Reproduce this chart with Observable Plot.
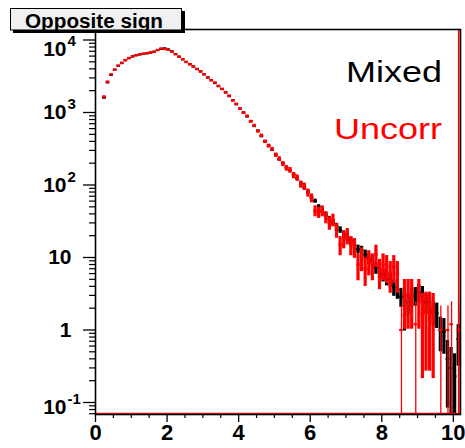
<!DOCTYPE html>
<html><head><meta charset="utf-8">
<script src="https://cdn.jsdelivr.net/npm/d3@7"></script>
<script src="https://cdn.jsdelivr.net/npm/@observablehq/plot@0.6"></script>
<style>body{margin:0;background:#fff;} #chart{width:465px;height:448px;}</style>
</head><body><div id="chart"></div>
<script>
// ---- data ----
const binCenters = [
0.05,0.15,0.25,0.35,0.45,0.55,0.65,0.75,0.85,0.95,
1.05,1.15,1.25,1.35,1.45,1.55,1.65,1.75,1.85,1.95,
2.05,2.15,2.25,2.35,2.45,2.55,2.65,2.75,2.85,2.95,
3.05,3.15,3.25,3.35,3.45,3.55,3.65,3.75,3.85,3.95,
4.05,4.15,4.25,4.35,4.45,4.55,4.65,4.75,4.85,4.95,
5.05,5.15,5.25,5.35,5.45,5.55,5.65,5.75,5.85,5.95,
6.05,6.15,6.25,6.35,6.45,6.55,6.65,6.75,6.85,6.95,
7.05,7.15,7.25,7.35,7.45,7.55,7.65,7.75,7.85,7.95,
8.05,8.15,8.25,8.35,8.45,8.55,8.65,8.75,8.85,8.95,
9.05,9.15,9.25,9.35,9.45,9.55,9.65,9.75,9.85,9.95,
10.05,10.15];
const mixed = [
null,null,1600,2600,3300,3900,4400,4800,5250,5650,
5950,6150,6300,6450,6550,6700,6900,7250,7550,7650,
7400,6950,6400,5900,5400,5000,4650,4300,4000,3700,
3350,3050,2800,2550,2330,2120,1900,1680,1480,1300,
1130,1000,880,760,650,560,470,400,350,305,
262,225,198,176,158,140,122,106,92,80,
68,60,50,44,39,34,30,27,24,21,
19,17,15,13,12.5,11,9.5,8.8,7.2,6.4,
5.8,5.2,5.0,3.9,3.6,2.9,1.6,2.4,2.9,3.0,
3.3,3.1,2.4,2.0,1.8,1.7,1.0,0.95,0.4,0.3,
0.23,0.75];
const uncorr = [
null,null,1650,2650,3350,3880,4420,4850,5300,5600,
5900,6200,6400,6450,6600,6750,6850,7300,7600,7500,
7300,6900,6350,5850,5450,4950,4600,4320,3950,3650,
3380,3020,2780,2580,2300,2100,1880,1700,1460,1310,
1120,990,890,750,660,550,480,395,345,310,
258,228,195,170,160,135,125,102,95,78,
66,44,42,44,36,30,33,24,15,18,
20,15,14,8,10,7,9,8,11,6.5,
8,7.5,6,7.5,6,1.0,3.0,3.0,3.0,1.2,
3.0,1.7,1.8,1.8,1.7,null,1.0,null,1.0,1.2,
null,1.0];
const seriesNames = ["Mixed", "Uncorr"];
const yTickValues = [0.1, 1, 10, 100, 1000, 10000];
const yTickBase = ["10", "1", "10", "10", "10", "10"];
const yTickExp = ["-1", "", "", "2", "3", "4"];
const xTickValues = [0, 2, 4, 6, 8, 10];
const xTickLabels = ["0", "2", "4", "6", "8", "10"];
const titleText = "Opposite sign";

// ---- setup ----
const xMax = 10.2, yMin = 0.0683, yMax = 13960;
const RED = "#ff0000", BLACK = "#000000";
const wMixed = 0.25, wUncorr = 1.3;   // per-bin error weight (err = sqrt(w*N))

function rows(values, w) {
  return binCenters.map((x, i) => ({x, v: values[i]}))
    .filter(d => d.v != null && d.v > 0)
    .map(d => ({...d, e: Math.sqrt(w * d.v)}));
}
const rowsM = rows(mixed, wMixed);
const rowsU = rows(uncorr, wUncorr);
const rowsUThick = rowsU.filter(d => d.v - d.e > 0);
const rowsUThin = rowsU.filter(d => d.v - d.e <= 0);

const minorY = [];
for (const dec of [0.01, 0.1, 1, 10, 100, 1000, 10000])
  for (let k = 2; k <= 9; k++) { const t = dec * k; if (t >= yMin && t <= yMax) minorY.push(t); }
const minorX = d3.range(0.5, xMax, 0.5).filter(t => Math.abs(t / 2 - Math.round(t / 2)) > 1e-6);

const idxAll = yTickValues.map((_, i) => i);
const iTop = yTickValues.indexOf(d3.max(yTickValues));
const iBot = yTickValues.indexOf(d3.min(yTickValues));
const font = "Liberation Sans, Arial, Helvetica, sans-serif";

function yLabelMarks(idx, dyShift) {
  const withExp = idx.filter(i => yTickExp[i] !== "");
  const noExp = idx.filter(i => yTickExp[i] === "");
  return [
    Plot.text(withExp, {y: i => yTickValues[i], text: i => yTickBase[i], frameAnchor: "left",
      textAnchor: "end", dx: -29, dy: dyShift, fontSize: 21, fontWeight: "bold", fill: BLACK}),
    Plot.text(withExp, {y: i => yTickValues[i], text: i => yTickExp[i], frameAnchor: "left",
      textAnchor: "start", dx: -28, dy: dyShift - 8, fontSize: 15, fontWeight: "bold", fill: BLACK}),
    Plot.text(noExp, {y: i => yTickValues[i], text: i => yTickBase[i], frameAnchor: "left",
      textAnchor: "end", dx: -24, dy: dyShift, fontSize: 21, fontWeight: "bold", fill: BLACK})
  ];
}

function histMarks(rs, thick, color) {
  return [
    Plot.rect(thick, {x1: d => d.x - 0.045, x2: d => d.x + 0.045,
      y1: d => Math.max(d.v - d.e, yMin), y2: d => Math.min(d.v + d.e, yMax), fill: color, clip: true}),
    Plot.ruleY(rs, {y: d => d.v, x1: d => d.x - 0.05, x2: d => d.x + 0.05, stroke: color, strokeWidth: 2.2, clip: true})
  ];
}

const svg = Plot.plot({
  width: 465, height: 448,
  marginLeft: 95, marginRight: 5, marginTop: 29, marginBottom: 34,
  x: {domain: [0, xMax]},
  y: {type: "log", domain: [yMin, yMax]},
  style: {background: "white", fontFamily: font, color: "black"},
  marks: [
    ...histMarks(rowsM, rowsM, BLACK),
    ...histMarks(rowsU, rowsUThick, RED),
    Plot.ruleX(rowsUThin, {x: d => d.x, y1: yMin, y2: d => d.v + d.e, stroke: RED, strokeWidth: 1.3, clip: true}),
    Plot.ruleY([yMin], {stroke: RED, strokeWidth: 1.6, dy: -1}),
    Plot.ruleX([xMax], {stroke: RED, strokeWidth: 1.6, dx: -1.8}),
    Plot.frame({stroke: BLACK, strokeWidth: 1.6}),
    Plot.axisY(yTickValues, {anchor: "left", tickSize: 12, tickFormat: () => "", strokeWidth: 1.3}),
    Plot.axisY(minorY, {anchor: "left", tickSize: 6, tickFormat: () => "", strokeWidth: 1.2}),
    Plot.axisX(minorX, {anchor: "bottom", tickSize: 4, tickFormat: () => "", strokeWidth: 1.2}),
    Plot.axisX(xTickValues, {anchor: "bottom", tickSize: 8, tickPadding: 2, strokeWidth: 1.3,
      tickFormat: d => xTickLabels[xTickValues.indexOf(d)], fontSize: 22, fontWeight: "bold", fill: BLACK}),
    ...yLabelMarks(idxAll.filter(i => i !== iTop && i !== iBot), 0),
    ...yLabelMarks([iTop], 9),
    ...yLabelMarks([iBot], 5)
  ]
});
document.getElementById("chart").appendChild(svg);

// title box and legend texts
const s = d3.select(svg);
const g = s.append("g").attr("text-anchor", "start");
g.append("rect").attr("x", 13).attr("y", 11).attr("width", 172).attr("height", 22).attr("fill", BLACK);
g.append("rect").attr("x", 10.5).attr("y", 8.5).attr("width", 171).attr("height", 21.5)
  .attr("fill", "#f0f0f0").attr("stroke", BLACK).attr("stroke-width", 1);
g.append("text").attr("x", 25).attr("y", 28).attr("text-anchor", "start").attr("font-family", font).attr("font-size", 20)
  .attr("font-weight", "bold").attr("fill", BLACK).attr("textLength", 138).attr("lengthAdjust", "spacingAndGlyphs").text(titleText);
const lg = s.append("g").attr("font-family", font).attr("font-size", 30).attr("text-anchor", "end");
lg.append("text").attr("x", 442).attr("y", 82).attr("fill", BLACK)
  .attr("textLength", 96).attr("lengthAdjust", "spacingAndGlyphs").text(seriesNames[0]);
lg.append("text").attr("x", 442).attr("y", 139).attr("fill", RED)
  .attr("textLength", 108).attr("lengthAdjust", "spacingAndGlyphs").text(seriesNames[1]);
</script></body></html>
